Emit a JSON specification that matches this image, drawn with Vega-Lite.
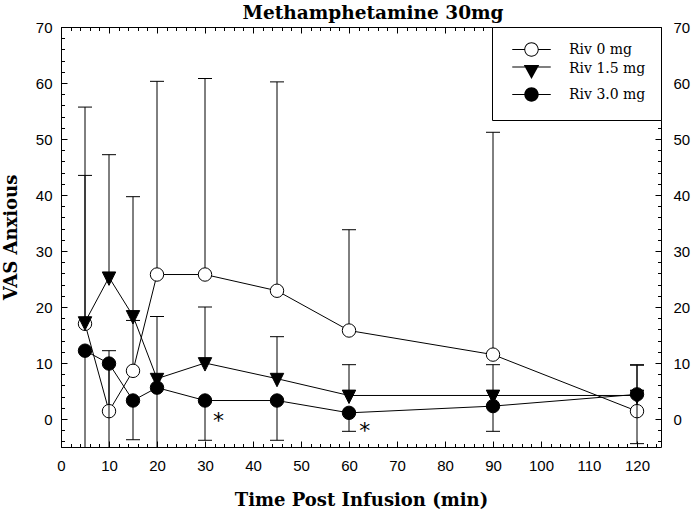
{
  "$schema": "https://vega.github.io/schema/vega-lite/v6.json",
  "width": 600,
  "height": 420,
  "autosize": {"type": "none"},
  "padding": {"left": 61, "top": 27, "right": 31, "bottom": 63},
  "title": {"text": "Methamphetamine 30mg", "font": "DejaVu Serif", "fontSize": 18.5, "fontWeight": "bold", "color": "black", "frame": "group", "offset": 8, "dx": 12, "dy": 10, "anchor": "middle"},
  "datasets": {
    "main": [
      {"t": 5, "series": "Riv 0 mg", "mean": 17.0, "lo": 17.0, "hi": 43.5, "cap": 43.5},
      {"t": 10, "series": "Riv 0 mg", "mean": 1.4, "lo": 1.4, "hi": 12.2, "cap": 12.2},
      {"t": 15, "series": "Riv 0 mg", "mean": 8.6, "lo": 8.6, "hi": 17.6, "cap": 17.6},
      {"t": 20, "series": "Riv 0 mg", "mean": 25.8, "lo": 25.8, "hi": 60.3, "cap": 60.3},
      {"t": 30, "series": "Riv 0 mg", "mean": 25.8, "lo": 25.8, "hi": 60.8, "cap": 60.8},
      {"t": 45, "series": "Riv 0 mg", "mean": 22.9, "lo": 22.9, "hi": 60.2, "cap": 60.2},
      {"t": 60, "series": "Riv 0 mg", "mean": 15.8, "lo": 15.8, "hi": 33.8, "cap": 33.8},
      {"t": 90, "series": "Riv 0 mg", "mean": 11.5, "lo": 11.5, "hi": 51.2, "cap": 51.2},
      {"t": 120, "series": "Riv 0 mg", "mean": 1.4, "lo": 1.4, "hi": 9.6, "cap": 9.6},
      {"t": 5, "series": "Riv 1.5 mg", "mean": 17.3, "lo": 17.3, "hi": 55.7, "cap": 55.7},
      {"t": 10, "series": "Riv 1.5 mg", "mean": 25.3, "lo": 25.3, "hi": 47.2, "cap": 47.2},
      {"t": 15, "series": "Riv 1.5 mg", "mean": 18.4, "lo": 18.4, "hi": 39.7, "cap": 39.7},
      {"t": 20, "series": "Riv 1.5 mg", "mean": 7.2, "lo": 7.2, "hi": 18.3, "cap": 18.3},
      {"t": 30, "series": "Riv 1.5 mg", "mean": 10.0, "lo": 10.0, "hi": 20.0, "cap": 20.0},
      {"t": 45, "series": "Riv 1.5 mg", "mean": 7.2, "lo": 7.2, "hi": 14.7, "cap": 14.7},
      {"t": 60, "series": "Riv 1.5 mg", "mean": 4.2, "lo": 4.2, "hi": 9.7, "cap": 9.7},
      {"t": 90, "series": "Riv 1.5 mg", "mean": 4.2, "lo": 4.2, "hi": 9.7, "cap": 9.7},
      {"t": 120, "series": "Riv 1.5 mg", "mean": 4.2, "lo": 4.2, "hi": 9.7, "cap": 9.7},
      {"t": 5, "series": "Riv 3.0 mg", "mean": 12.2, "lo": -12.0, "hi": 12.2, "cap": -12.0},
      {"t": 10, "series": "Riv 3.0 mg", "mean": 9.9, "lo": -10.0, "hi": 9.9, "cap": -10.0},
      {"t": 15, "series": "Riv 3.0 mg", "mean": 3.3, "lo": -3.7, "hi": 3.3, "cap": -3.7},
      {"t": 20, "series": "Riv 3.0 mg", "mean": 5.6, "lo": -10.0, "hi": 5.6, "cap": -10.0},
      {"t": 30, "series": "Riv 3.0 mg", "mean": 3.3, "lo": -3.8, "hi": 3.3, "cap": -3.8},
      {"t": 45, "series": "Riv 3.0 mg", "mean": 3.3, "lo": -3.8, "hi": 3.3, "cap": -3.8},
      {"t": 60, "series": "Riv 3.0 mg", "mean": 1.1, "lo": -2.2, "hi": 1.1, "cap": -2.2},
      {"t": 90, "series": "Riv 3.0 mg", "mean": 2.3, "lo": -2.2, "hi": 2.3, "cap": -2.2},
      {"t": 120, "series": "Riv 3.0 mg", "mean": 4.4, "lo": -4.4, "hi": 4.4, "cap": -4.4}
    ],
    "stars": [
      {"t": 32.8, "v": 0.5, "label": "*"},
      {"t": 63.3, "v": -1.3, "label": "*"}
    ]
  },
  "config": {
    "view": {"stroke": "black", "strokeWidth": 1},
    "axis": {"domain": false, "grid": false, "tickColor": "black", "tickWidth": 1, "labelColor": "black", "labelFont": "Liberation Sans", "labelFontSize": 15, "labelFlush": false, "labelOverlap": false, "titleColor": "black", "titleFont": "DejaVu Serif", "titleFontWeight": "bold", "titleFontSize": 18}
  },
  "resolve": {"axis": {"x": "independent", "y": "independent"}},
  "layer": [
    {
      "data": {"name": "main"},
      "transform": [{"filter": "datum.series !== 'Riv 3.0 mg'"}],
      "mark": {"type": "rule", "color": "black", "strokeWidth": 1, "clip": true},
      "encoding": {
        "x": {"field": "t", "type": "quantitative", "scale": {"domain": [0, 125], "nice": false, "zero": false},
          "axis": {"orient": "bottom", "values": [0,10,20,30,40,50,60,70,80,90,100,110,120], "tickSize": -6, "labelPadding": 17, "title": "Time Post Infusion (min)", "titlePadding": 18}},
        "y": {"field": "lo", "type": "quantitative", "scale": {"domain": [-5, 70], "nice": false, "zero": false},
          "axis": {"orient": "left", "values": [0,10,20,30,40,50,60,70], "tickSize": -6, "labelPadding": 15, "title": "VAS Anxious", "titlePadding": 15}},
        "y2": {"field": "hi"}
      }
    },
    {
      "data": {"name": "main"},
      "transform": [{"filter": "datum.series !== 'Riv 3.0 mg'"}],
      "mark": {"type": "tick", "orient": "horizontal", "color": "black", "size": 14, "thickness": 1, "clip": true, "opacity": 1},
      "encoding": {
        "x": {"field": "t", "type": "quantitative", "scale": {"domain": [0, 125], "nice": false, "zero": false},
          "axis": {"orient": "bottom", "values": [0,2,4,6,8,10,12,14,16,18,20,22,24,26,28,30,32,34,36,38,40,42,44,46,48,50,52,54,56,58,60,62,64,66,68,70,72,74,76,78,80,82,84,86,88,90,92,94,96,98,100,102,104,106,108,110,112,114,116,118,120,122,124], "tickSize": -3.5, "labels": false, "title": null}},
        "y": {"field": "cap", "type": "quantitative", "scale": {"domain": [-5, 70], "nice": false, "zero": false},
          "axis": {"orient": "left", "values": [-4,-2,0,2,4,6,8,10,12,14,16,18,20,22,24,26,28,30,32,34,36,38,40,42,44,46,48,50,52,54,56,58,60,62,64,66,68,70], "tickSize": -3.5, "labels": false, "title": null}}
      }
    },
    {
      "data": {"name": "main"},
      "transform": [{"filter": "datum.series !== 'Riv 3.0 mg'"}],
      "mark": {"type": "line", "color": "black", "strokeWidth": 1},
      "encoding": {
        "x": {"field": "t", "type": "quantitative", "scale": {"domain": [0, 125], "nice": false, "zero": false},
          "axis": {"orient": "top", "values": [0,10,20,30,40,50,60,70,80,90,100,110,120], "tickSize": -6, "labels": false, "title": null}},
        "y": {"field": "mean", "type": "quantitative", "scale": {"domain": [-5, 70], "nice": false, "zero": false},
          "axis": {"orient": "right", "values": [0,10,20,30,40,50,60,70], "tickSize": -6, "labelPadding": 18, "title": null}},
        "detail": {"field": "series"}
      }
    },
    {
      "data": {"name": "main"},
      "transform": [{"filter": "datum.series === 'Riv 0 mg'"}],
      "mark": {"type": "point", "shape": "circle", "filled": true, "fill": "white", "stroke": "black", "strokeWidth": 1, "size": 180, "opacity": 1},
      "encoding": {
        "x": {"field": "t", "type": "quantitative", "scale": {"domain": [0, 125], "nice": false, "zero": false},
          "axis": {"orient": "top", "values": [0,2,4,6,8,10,12,14,16,18,20,22,24,26,28,30,32,34,36,38,40,42,44,46,48,50,52,54,56,58,60,62,64,66,68,70,72,74,76,78,80,82,84,86,88,90,92,94,96,98,100,102,104,106,108,110,112,114,116,118,120,122,124], "tickSize": -3.5, "labels": false, "title": null}},
        "y": {"field": "mean", "type": "quantitative", "scale": {"domain": [-5, 70], "nice": false, "zero": false},
          "axis": {"orient": "right", "values": [-4,-2,0,2,4,6,8,10,12,14,16,18,20,22,24,26,28,30,32,34,36,38,40,42,44,46,48,50,52,54,56,58,60,62,64,66,68,70], "tickSize": -3.5, "labels": false, "title": null}}
      }
    },
    {
      "data": {"name": "main"},
      "transform": [{"filter": "datum.series === 'Riv 1.5 mg'"}],
      "mark": {"type": "point", "shape": "M-1,-0.8L1,-0.8L0,1.2Z", "filled": true, "fill": "black", "stroke": "black", "strokeWidth": 1, "size": 180, "opacity": 1},
      "encoding": {
        "x": {"field": "t", "type": "quantitative", "scale": {"domain": [0, 125], "nice": false, "zero": false}, "axis": null},
        "y": {"field": "mean", "type": "quantitative", "scale": {"domain": [-5, 70], "nice": false, "zero": false}, "axis": null}
      }
    },
    {
      "data": {"name": "main"},
      "transform": [{"filter": "datum.series === 'Riv 3.0 mg'"}],
      "mark": {"type": "rule", "color": "black", "strokeWidth": 1, "clip": true},
      "encoding": {
        "x": {"field": "t", "type": "quantitative", "scale": {"domain": [0, 125], "nice": false, "zero": false}, "axis": null},
        "y": {"field": "lo", "type": "quantitative", "scale": {"domain": [-5, 70], "nice": false, "zero": false}, "axis": null},
        "y2": {"field": "hi"}
      }
    },
    {
      "data": {"name": "main"},
      "transform": [{"filter": "datum.series === 'Riv 3.0 mg'"}],
      "mark": {"type": "tick", "orient": "horizontal", "color": "black", "size": 14, "thickness": 1, "clip": true, "opacity": 1},
      "encoding": {
        "x": {"field": "t", "type": "quantitative", "scale": {"domain": [0, 125], "nice": false, "zero": false}, "axis": null},
        "y": {"field": "cap", "type": "quantitative", "scale": {"domain": [-5, 70], "nice": false, "zero": false}, "axis": null}
      }
    },
    {
      "data": {"name": "main"},
      "transform": [{"filter": "datum.series === 'Riv 3.0 mg'"}],
      "mark": {"type": "line", "color": "black", "strokeWidth": 1},
      "encoding": {
        "x": {"field": "t", "type": "quantitative", "scale": {"domain": [0, 125], "nice": false, "zero": false}, "axis": null},
        "y": {"field": "mean", "type": "quantitative", "scale": {"domain": [-5, 70], "nice": false, "zero": false}, "axis": null}
      }
    },
    {
      "data": {"name": "main"},
      "transform": [{"filter": "datum.series === 'Riv 3.0 mg'"}],
      "mark": {"type": "point", "shape": "circle", "filled": true, "fill": "black", "stroke": "black", "strokeWidth": 1, "size": 180, "opacity": 1},
      "encoding": {
        "x": {"field": "t", "type": "quantitative", "scale": {"domain": [0, 125], "nice": false, "zero": false}, "axis": null},
        "y": {"field": "mean", "type": "quantitative", "scale": {"domain": [-5, 70], "nice": false, "zero": false}, "axis": null}
      }
    },
    {
      "data": {"name": "main"},
      "mark": {"type": "point", "filled": true, "fill": "black", "color": "black", "size": 180, "opacity": 0},
      "encoding": {
        "x": {"field": "t", "type": "quantitative", "scale": {"domain": [0, 125], "nice": false, "zero": false}, "axis": null},
        "y": {"field": "mean", "type": "quantitative", "scale": {"domain": [-5, 70], "nice": false, "zero": false}, "axis": null},
        "shape": {"field": "series", "type": "nominal",
          "scale": {"domain": ["Riv 0 mg", "Riv 1.5 mg", "Riv 3.0 mg"], "range": [
            "M1.07,0A1.07,1.07,0,1,1,-1.07,0A1.07,1.07,0,1,1,1.07,0ZM0.93,0A0.93,0.93,0,1,0,-0.93,0A0.93,0.93,0,1,0,0.93,0ZM-2.87,-0.075H-1.06V0.075H-2.87ZM1.06,-0.075H2.87V0.075H1.06Z",
            "M-2.87,-0.375H2.87V-0.225H-2.87ZM-1.15,-0.6L1.15,-0.6L0,1.5Z",
            "M1.07,0A1.07,1.07,0,1,1,-1.07,0A1.07,1.07,0,1,1,1.07,0ZM-2.87,-0.075H-1.06V0.075H-2.87ZM1.06,-0.075H2.87V0.075H1.06Z"]},
          "legend": {"title": null, "orient": "top-right", "offset": 0, "padding": 15, "strokeColor": "black", "fillColor": "white", "labelFont": "DejaVu Serif", "labelFontSize": 14, "labelColor": "black", "labelOffset": 30, "symbolOffset": 17, "rowPadding": 1.5, "symbolSize": 180, "symbolFillColor": "black", "symbolOpacity": 1}}
      }
    },
    {
      "data": {"name": "stars"},
      "mark": {"type": "text", "font": "DejaVu Sans", "fontSize": 22, "baseline": "middle", "align": "center", "dy": 5, "color": "black"},
      "encoding": {
        "x": {"field": "t", "type": "quantitative", "scale": {"domain": [0, 125], "nice": false, "zero": false}, "axis": null},
        "y": {"field": "v", "type": "quantitative", "scale": {"domain": [-5, 70], "nice": false, "zero": false}, "axis": null},
        "text": {"field": "label"}
      }
    }
  ]
}
